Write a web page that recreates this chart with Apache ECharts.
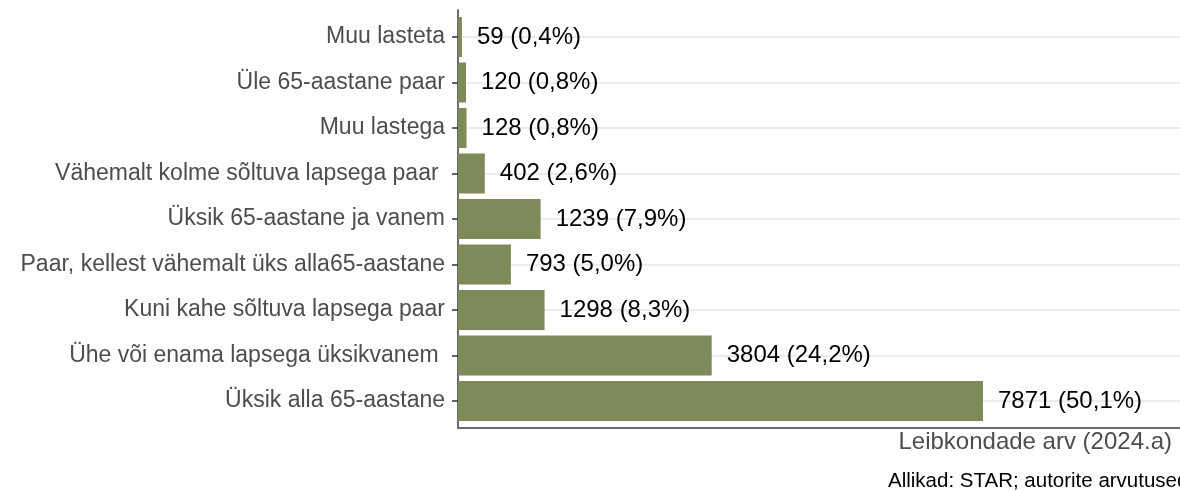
<!DOCTYPE html>
<html>
<head>
    <meta charset="utf-8"/>
    <title>Leibkonnad</title>
    <style>
        html, body { margin: 0; padding: 0; background: #fff; }
        #main { width: 1180px; height: 491px; }
    </style>
</head>
<body>
<div id="main"></div>
<script src="https://cdn.jsdelivr.net/npm/echarts@6/dist/echarts.min.js"></script>
<script>
    // andmed (ülevalt alla)
    var categories = [
        'Muu lasteta',
        'Üle 65-aastane paar',
        'Muu lastega',
        'Vähemalt kolme sõltuva lapsega paar ',
        'Üksik 65-aastane ja vanem',
        'Paar, kellest vähemalt üks alla65-aastane',
        'Kuni kahe sõltuva lapsega paar',
        'Ühe või enama lapsega üksikvanem ',
        'Üksik alla 65-aastane'
    ];
    var counts = [59, 120, 128, 402, 1239, 793, 1298, 3804, 7871];
    var shares = ['0,4%', '0,8%', '0,8%', '2,6%', '7,9%', '5,0%', '8,3%', '24,2%', '50,1%'];

    var font = 'Liberation Sans, Arial, sans-serif';
    var chart = echarts.init(document.getElementById('main'));

    var option = {
        animation: false,
        backgroundColor: '#ffffff',
        title: [{
            text: 'Leibkondade arv (2024.a)',
            right: 8, top: 430, padding: 0,
            textStyle: {fontFamily: font, fontSize: 24, fontWeight: 'normal', color: '#4d4d4d'}
        }, {
            text: 'Allikad: STAR; autorite arvutused',
            left: 888, top: 471, padding: 0,
            textStyle: {fontFamily: font, fontSize: 20.5, fontWeight: 'normal', color: '#000'}
        }],
        grid: [
            {left: 458, right: 0, top: 14.25, bottom: 67.25},  // tulbad
            {left: 458, right: 0, top: 10, bottom: 63}         // telgede raam
        ],
        xAxis: [{
            gridIndex: 0, type: 'value', min: 0, max: 10825,
            axisLine: {show: false}, axisTick: {show: false},
            axisLabel: {show: false}, splitLine: {show: false}
        }, {
            gridIndex: 1, type: 'value', min: 0, max: 1,
            axisLine: {show: true, lineStyle: {color: '#6b6b6b', width: 2}},
            axisTick: {show: false}, axisLabel: {show: false}, splitLine: {show: false}
        }],
        yAxis: [{
            gridIndex: 0, type: 'category', data: categories, inverse: true,
            axisLine: {show: false},
            axisTick: {show: true, alignWithLabel: true, length: 6, lineStyle: {color: '#333', width: 1.5}},
            axisLabel: {fontFamily: font, fontSize: 23, color: '#4d4d4d', margin: 13},
            splitLine: {show: false}
        }, {
            gridIndex: 1, type: 'value', min: 0, max: 1,
            axisLine: {show: true, onZero: false, lineStyle: {color: '#6b6b6b', width: 2}},
            axisTick: {show: false}, axisLabel: {show: false}, splitLine: {show: false}
        }],
        series: [{
            type: 'bar',
            xAxisIndex: 0, yAxisIndex: 0,
            data: counts,
            barWidth: 40,
            z: 2,
            itemStyle: {color: '#7f8a5a'},
            label: {
                show: true, position: 'right', distance: 15,
                fontFamily: font, fontSize: 24, color: '#000',
                formatter: function (p) {
                    return counts[p.dataIndex] + ' (' + shares[p.dataIndex] + ')';
                }
            },
            markLine: {
                silent: true, z: 1,
                symbol: ['none', 'none'],
                label: {show: false},
                lineStyle: {color: '#e6e6e6', width: 1.5, type: 'solid'},
                data: categories.map(function (c) { return {yAxis: c}; })
            }
        }]
    };

    chart.setOption(option);
</script>
</body>
</html>
